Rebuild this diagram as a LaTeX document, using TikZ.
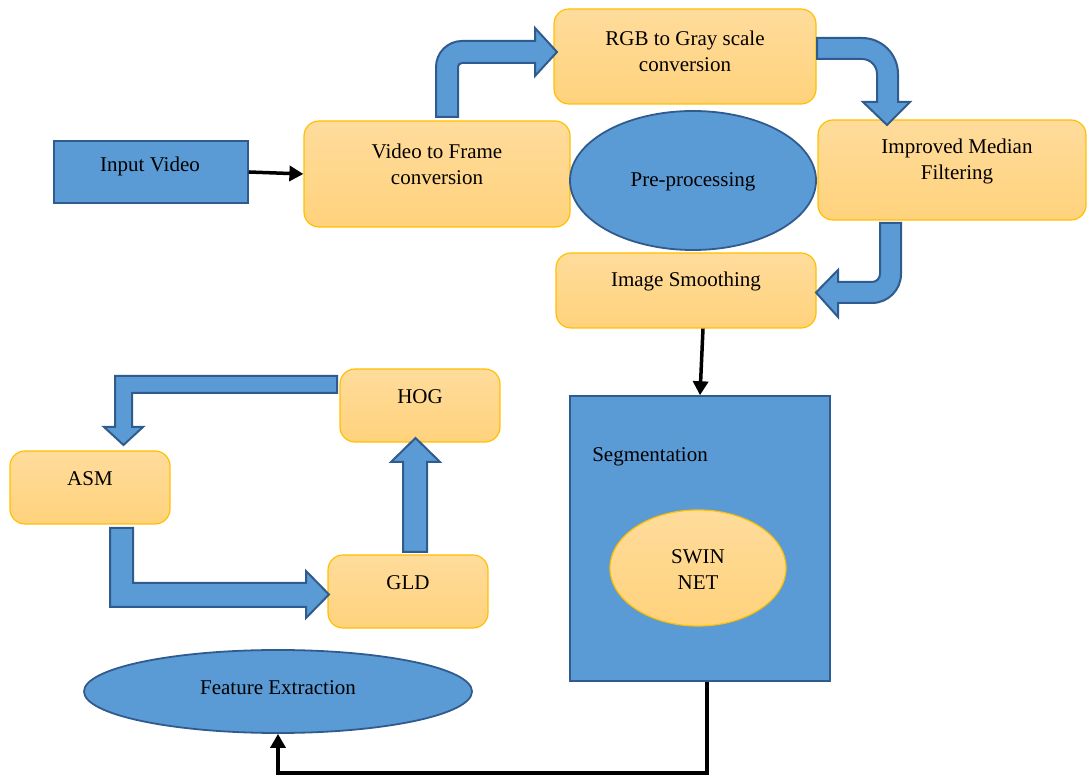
\documentclass[tikz,border=0pt]{standalone}
\usepackage{fontspec}
\setmainfont{Liberation Serif}
\usetikzlibrary{shapes.geometric,arrows.meta}
\definecolor{bfill}{HTML}{5B9BD5}
\definecolor{bdraw}{HTML}{2F5B8E}
\definecolor{otop}{HTML}{FFDC9C}
\definecolor{obot}{HTML}{FFD27C}
\definecolor{odraw}{HTML}{FFC000}
\begin{document}
\begin{tikzpicture}[x=1pt,y=1pt,
 obox/.style={draw=odraw, line width=1.2pt, rounded corners=15pt, top color=otop, bottom color=obot, inner sep=0pt},
 bbox/.style={draw=bdraw, line width=1.5pt, fill=bfill, inner sep=0pt},
 bell/.style={ellipse, draw=bdraw, line width=1.8pt, fill=bfill, inner sep=0pt},
 oell/.style={ellipse, draw=odraw, line width=1.2pt, top color=otop, bottom color=obot, inner sep=0pt},
 txt/.style={font=\fontsize{21}{26}\selectfont, align=center, inner sep=0pt},
 barrow/.style={draw=bdraw, line width=2pt, fill=bfill, line join=miter},
 blk/.style={draw=black, line width=3.5pt, -{Triangle[length=14pt,width=15pt]}},
]
\useasboundingbox (0,0) rectangle (1087,776);

% boxes
\node[bbox, minimum width=194pt, minimum height=62pt] (inp) at (151,604) {};
\node[obox, minimum width=266pt, minimum height=106pt] (vtf) at (437,602) {};
\node[obox, minimum width=262pt, minimum height=95pt] (rgb) at (685,719.5) {};
\node[bell, minimum width=246pt, minimum height=139pt] (pre) at (693,595.5) {};
\node[obox, minimum width=268pt, minimum height=100pt] (imf) at (952,606) {};
\node[obox, minimum width=260pt, minimum height=75pt] (ims) at (686,485.5) {};
\node[bbox, minimum width=260pt, minimum height=285pt] (seg) at (700,237.5) {};
\node[oell, minimum width=176pt, minimum height=116pt] (swin) at (698,208) {};
\node[bell, minimum width=388pt, minimum height=83pt] (fe) at (278,84.5) {};
\node[obox, minimum width=160pt, minimum height=73pt] (hog) at (420,370.5) {};
\node[obox, minimum width=160pt, minimum height=73pt] (asm) at (90,288.5) {};
\node[obox, minimum width=160pt, minimum height=73pt] (gld) at (408,184.5) {};

% texts
\node[txt] (tinp) at (150,610) {Input Video};
\node[txt] (tvtf) at (437,612) {Video to Frame\\conversion};
\node[txt] (trgb) at (685,725) {RGB to Gray scale\\conversion};
\node[txt] (tpre) at (693,594) {Pre-processing};
\node[txt] (timf) at (957,614.5) {Improved Median\\Filtering};
\node[txt] (tims) at (686,495) {Image Smoothing};
\node[txt] (tseg) at (650,319) {Segmentation};
\node[txt] (tswin) at (698,206) {SWIN\\NET};
\node[txt] (tfe) at (278,88) {Feature Extraction};
\node[txt] (thog) at (420,379) {HOG};
\node[txt] (tasm) at (90,297) {ASM};
\node[txt] (tgld) at (408,193) {GLD};

% block arrows
\draw[barrow] (436,659) -- (436,709) arc[start angle=180,end angle=90,radius=26pt]
  -- (535,735) -- (535,748) -- (557,724) -- (535,700) -- (535,713) -- (462,713)
  arc[start angle=90,end angle=180,radius=4pt] -- (458,659) -- cycle;
\draw[barrow] (817,738) -- (862,738) arc[start angle=90,end angle=0,radius=36pt]
  -- (898,674) -- (910,674) -- (887,651) -- (863,674) -- (877,674) -- (877,702)
  arc[start angle=0,end angle=90,radius=15pt] -- (817,717) -- cycle;
\draw[barrow] (880,553) -- (880,502) arc[start angle=0,end angle=-90,radius=8pt]
  -- (838,494) -- (838,506) -- (816,483.5) -- (838,459) -- (838,473) -- (872,473)
  arc[start angle=-90,end angle=0,radius=29pt] -- (901,553) -- cycle;
\draw[barrow] (337,400) -- (115,400) -- (115,349) -- (104,349) -- (123.5,331)
  -- (143,349) -- (132,349) -- (132,383) -- (337,383) -- cycle;
\draw[barrow] (110,248) -- (110,169) -- (306,169) -- (306,158) -- (329,181.5)
  -- (306,205) -- (306,193) -- (133,193) -- (133,248) -- cycle;
\draw[barrow] (403,224) -- (403,314) -- (391,314) -- (415.5,338) -- (440,314)
  -- (427,314) -- (427,224) -- cycle;

% black connectors
\draw[blk] (inp.east) -- (vtf.west);
\draw[blk] ([xshift=17pt]ims.south) -- (seg.north);
\coordinate (bend) at (707,3);
\draw[blk] ([xshift=7pt]seg.south) -- (bend) -| (fe.south);
\end{tikzpicture}
\end{document}
